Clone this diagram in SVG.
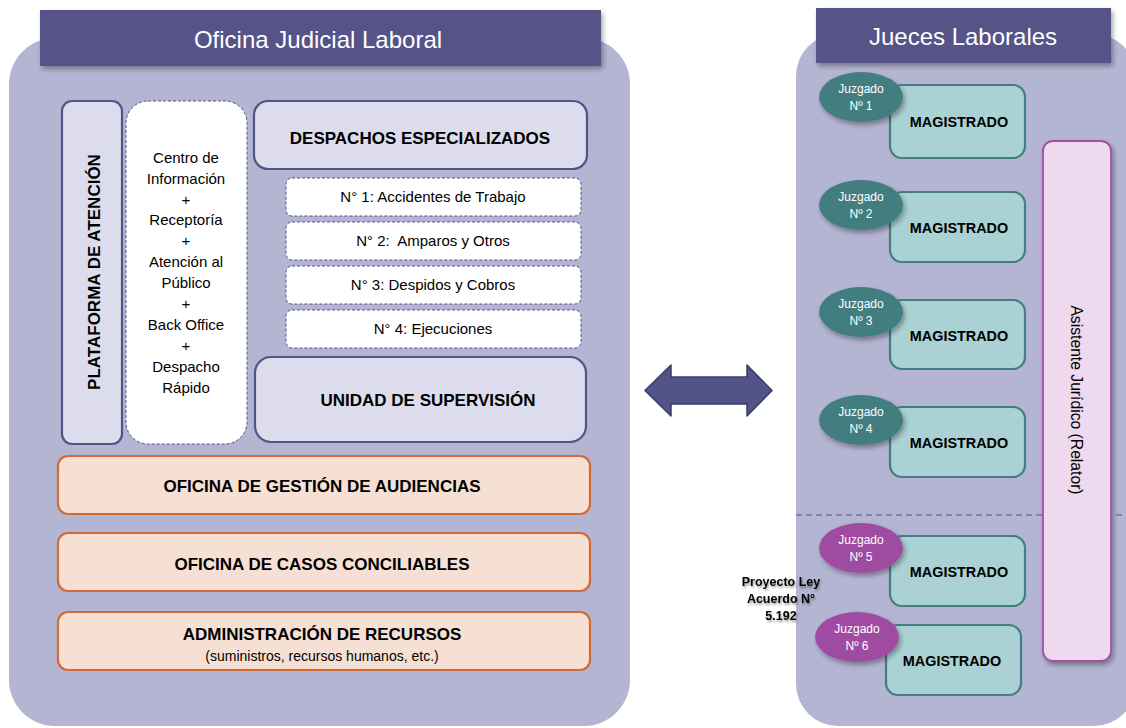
<svg xmlns="http://www.w3.org/2000/svg" width="1126" height="728" viewBox="0 0 1126 728">
<defs>
<filter id="sh" x="-10%" y="-10%" width="130%" height="140%">
<feGaussianBlur in="SourceAlpha" stdDeviation="2.5"/>
<feOffset dx="2" dy="3" result="b"/>
<feComponentTransfer><feFuncA type="linear" slope="0.35"/></feComponentTransfer>
<feMerge><feMergeNode/><feMergeNode in="SourceGraphic"/></feMerge>
</filter>
<filter id="tsh" x="-10%" y="-10%" width="130%" height="140%">
<feGaussianBlur in="SourceAlpha" stdDeviation="1"/>
<feOffset dx="1" dy="1.5" result="b"/>
<feComponentTransfer><feFuncA type="linear" slope="0.4"/></feComponentTransfer>
<feMerge><feMergeNode/><feMergeNode in="SourceGraphic"/></feMerge>
</filter>
</defs>
<style>
text{font-family:"Liberation Sans",Arial,sans-serif;text-anchor:middle;}
.panel{fill:#b4b4d3;}
.hdr{fill:#545388;}
.hdrt{fill:#ffffff;font-size:24px;}
.lav{fill:#dcdcec;stroke:#545388;stroke-width:2.2;}
.dash{fill:#ffffff;stroke:#545388;stroke-width:1;stroke-dasharray:3 2;}
.org{fill:#f6e0d4;stroke:#d06b35;stroke-width:2.2;}
.b15{font-size:17px;font-weight:bold;fill:#000;}
.r13{font-size:15px;fill:#000;}
.mag{fill:#aad1d3;stroke:#437e80;stroke-width:2.2;}
.magt{font-size:14.4px;font-weight:bold;fill:#000;}
.jt{fill:#437e80;}
.jp{fill:#a04ca2;}
.jtxt{font-size:12px;fill:#ffffff;}
</style>

<g id="oficina-judicial">
<rect class="panel" x="9" y="38" width="621" height="688" rx="46"/>
<rect class="hdr" x="40" y="10" width="561" height="56" filter="url(#sh)"/>
<text class="hdrt" x="318" y="48">Oficina Judicial Laboral</text>
</g>

<g id="plataforma">
<rect class="lav" x="62" y="101" width="60" height="343" rx="10"/>
<text class="b15" transform="translate(99.5,272) rotate(-90)" font-size="18px">PLATAFORMA DE ATENCIÓN</text>
</g>

<g id="centro-informacion">
<rect class="dash" x="126" y="101" width="121" height="343" rx="22"/>
<text class="r13" x="186" y="163">Centro de</text>
<text class="r13" x="186" y="184">Información</text>
<text class="r13" x="186" y="205">+</text>
<text class="r13" x="186" y="225">Receptoría</text>
<text class="r13" x="186" y="246">+</text>
<text class="r13" x="186" y="267">Atención al</text>
<text class="r13" x="186" y="288">Público</text>
<text class="r13" x="186" y="309">+</text>
<text class="r13" x="186" y="330">Back Office</text>
<text class="r13" x="186" y="351">+</text>
<text class="r13" x="186" y="372">Despacho</text>
<text class="r13" x="186" y="393">Rápido</text>
</g>

<g id="despachos">
<rect class="lav" x="254" y="101" width="333" height="68" rx="14"/>
<text class="b15" x="420" y="144">DESPACHOS ESPECIALIZADOS</text>
</g>

<g id="despacho-1">
<rect class="dash" x="286" y="178" width="295" height="38" rx="6"/>
<text class="r13" x="433" y="202">N° 1: Accidentes de Trabajo</text>
</g>
<g id="despacho-2">
<rect class="dash" x="286" y="222" width="295" height="38" rx="6"/>
<text class="r13" x="433" y="246" xml:space="preserve">N° 2:  Amparos y Otros</text>
</g>
<g id="despacho-3">
<rect class="dash" x="286" y="266" width="295" height="38" rx="6"/>
<text class="r13" x="433" y="290">N° 3: Despidos y Cobros</text>
</g>
<g id="despacho-4">
<rect class="dash" x="286" y="310" width="295" height="38" rx="6"/>
<text class="r13" x="433" y="334">N° 4: Ejecuciones</text>
</g>

<g id="unidad-supervision">
<rect class="lav" x="255" y="357" width="331" height="85" rx="16"/>
<text class="b15" x="428" y="406">UNIDAD DE SUPERVISIÓN</text>
</g>

<g id="gestion-audiencias">
<rect class="org" x="58" y="456" width="532" height="58" rx="10"/>
<text class="b15" x="322" y="492">OFICINA DE GESTIÓN DE AUDIENCIAS</text>
</g>
<g id="casos-conciliables">
<rect class="org" x="58" y="533" width="532" height="58" rx="10"/>
<text class="b15" x="322" y="570">OFICINA DE CASOS CONCILIABLES</text>
</g>
<g id="administracion-recursos">
<rect class="org" x="58" y="612" width="532" height="58" rx="10"/>
<text class="b15" x="322" y="640">ADMINISTRACIÓN DE RECURSOS</text>
<text x="322" y="661" font-size="14px" fill="#000">(suministros, recursos humanos, etc.)</text>
</g>

<g id="connectors">
<path d="M645,390.5 L671,365 L671,377 L747,377 L747,365 L772,390.5 L747,416 L747,404 L671,404 L671,416 Z" fill="#545388" stroke="#3b3b6b" stroke-width="1.5" stroke-linejoin="round"/>
</g>

<g id="jueces-laborales">
<rect class="panel" x="796" y="34" width="340" height="692" rx="42"/>
<rect class="hdr" x="816" y="8" width="295" height="55" filter="url(#sh)"/>
<text class="hdrt" x="963" y="45">Jueces Laborales</text>
<line x1="796" y1="515" x2="1126" y2="515" stroke="#545388" stroke-width="1.2" stroke-dasharray="6 4"/>
</g>

<g id="asistente">
<rect x="1043" y="141" width="68" height="520" rx="10" fill="#eed9ef" stroke="#a24fa3" stroke-width="1.8" filter="url(#sh)"/>
<text transform="translate(1071,400) rotate(90)" font-size="15.7px" fill="#000">Asistente Jurídico (Relator)</text>
</g>

<g id="juzgado-1">
<rect class="mag" x="890" y="85" width="135" height="73" rx="12"/>
<text class="magt" x="959" y="127">MAGISTRADO</text>
<ellipse class="jt" cx="861" cy="97" rx="42" ry="25" filter="url(#sh)"/>
<text class="jtxt" x="861" y="93">Juzgado</text>
<text class="jtxt" x="861" y="110">Nº 1</text>
</g>
<g id="juzgado-2">
<rect class="mag" x="890" y="192" width="135" height="70" rx="12"/>
<text class="magt" x="959" y="233">MAGISTRADO</text>
<ellipse class="jt" cx="861" cy="205" rx="42" ry="25" filter="url(#sh)"/>
<text class="jtxt" x="861" y="201">Juzgado</text>
<text class="jtxt" x="861" y="218">Nº 2</text>
</g>
<g id="juzgado-3">
<rect class="mag" x="890" y="300" width="135" height="69" rx="12"/>
<text class="magt" x="959" y="341">MAGISTRADO</text>
<ellipse class="jt" cx="861" cy="312" rx="42" ry="25" filter="url(#sh)"/>
<text class="jtxt" x="861" y="308">Juzgado</text>
<text class="jtxt" x="861" y="325">Nº 3</text>
</g>
<g id="juzgado-4">
<rect class="mag" x="890" y="407" width="135" height="70" rx="12"/>
<text class="magt" x="959" y="448">MAGISTRADO</text>
<ellipse class="jt" cx="861" cy="420" rx="42" ry="25" filter="url(#sh)"/>
<text class="jtxt" x="861" y="416">Juzgado</text>
<text class="jtxt" x="861" y="433">Nº 4</text>
</g>
<g id="juzgado-5">
<rect class="mag" x="890" y="536" width="135" height="70" rx="12"/>
<text class="magt" x="959" y="577">MAGISTRADO</text>
<ellipse class="jp" cx="861" cy="548" rx="42" ry="25" filter="url(#sh)"/>
<text class="jtxt" x="861" y="544">Juzgado</text>
<text class="jtxt" x="861" y="561">Nº 5</text>
</g>
<g id="juzgado-6">
<rect class="mag" x="886" y="625" width="135" height="70" rx="12"/>
<text class="magt" x="952" y="666">MAGISTRADO</text>
<ellipse class="jp" cx="857" cy="637" rx="42" ry="25" filter="url(#sh)"/>
<text class="jtxt" x="857" y="633">Juzgado</text>
<text class="jtxt" x="857" y="650">Nº 6</text>
</g>

<g id="proyecto-ley" filter="url(#tsh)">
<text x="781" y="586" font-size="12.5px" font-weight="bold" fill="#000">Proyecto Ley</text>
<text x="781" y="603" font-size="12.5px" font-weight="bold" fill="#000">Acuerdo N°</text>
<text x="781" y="620" font-size="12.5px" font-weight="bold" fill="#000">5.192</text>
</g>
</svg>
